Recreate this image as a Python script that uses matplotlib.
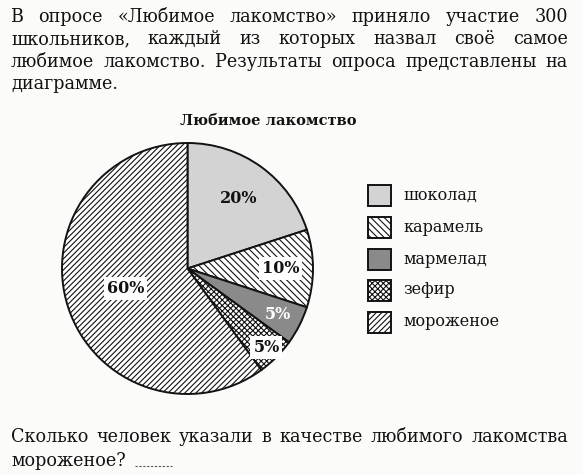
import matplotlib
matplotlib.use("Agg")
import matplotlib.pyplot as plt
from matplotlib.patches import Rectangle
import numpy as np

# ---- data ----
categories = ["шоколад", "карамель", "мармелад", "зефир", "мороженое"]
shares = [20, 10, 5, 5, 60]
chart_title = "Любимое лакомство"
intro_lines = [
    "В опросе «Любимое лакомство» приняло участие 300",
    "школьников, каждый из которых назвал своё самое",
    "любимое лакомство. Результаты опроса представлены на",
    "диаграмме.",
]
question_lines = [
    "Сколько человек указали в качестве любимого лакомства",
    "мороженое?",
]

# ---- styles ----
W, H = 583, 475
INK = "#121212"
PAPER = "#fbfbfa"
SERIF = ["DejaVu Serif"]
fills = ["#d3d3d3", "white", "#8a8a8a", "white", "white"]
hatches = [None, "\\\\\\\\\\", None, "xxxxxx", "//////"]
label_r = [0.69, 0.74, 0.81, 0.89, 0.52]
label_colors = [INK, INK, "white", INK, INK]
label_boxed = [False, True, False, True, True]

plt.rcParams["hatch.linewidth"] = 0.8
plt.rcParams["font.family"] = SERIF

fig = plt.figure(figsize=(W / 100, H / 100), dpi=100)
fig.patch.set_facecolor(PAPER)

# page layer in pixel coordinates (origin top-left)
page = fig.add_axes([0, 0, 1, 1])
page.set_xlim(0, W)
page.set_ylim(H, 0)
page.axis("off")
page.set_zorder(0)

renderer = fig.canvas.get_renderer()


def set_line(text, y, x0, x1=None, **kw):
    """Write one line of body text; stretch word gaps when x1 is given."""
    words = text.split(" ")
    items = [page.text(0, y, w, ha="left", va="baseline", color=INK, **kw) for w in words]
    widths = [t.get_window_extent(renderer).width for t in items]
    if x1 is not None and len(words) > 1:
        gap = (x1 - x0 - sum(widths)) / (len(words) - 1)
    else:
        gap = kw.get("fontsize", 12) * 0.42
    x = x0
    for t, w in zip(items, widths):
        t.set_x(x)
        x += w + gap
    return x - gap


body = dict(fontsize=14, fontstretch="condensed")
for i, line in enumerate(intro_lines):
    last = i == len(intro_lines) - 1
    set_line(line, 22 + i * 22.3, 11, None if last else 568, **body)

set_line(question_lines[0], 442, 11, 568, **body)
end = set_line(question_lines[1], 466, 11, None, **body)
page.plot([end + 9, 172], [466, 466], color="#555555", lw=0.8, dashes=(2, 1.5))

# chart title
page.text(268, 125, chart_title, ha="center", va="baseline", fontsize=10.5,
          fontweight="bold", color=INK)

# ---- pie ----
cx, cy, r = 187.5, 268.5, 125.5
pad = 1.04
pie_ax = fig.add_axes([(cx - r * pad) / W, (H - cy - r * pad) / H,
                       2 * r * pad / W, 2 * r * pad / H])
pie_ax.set_zorder(1)
wedges, _ = pie_ax.pie(shares, startangle=90, counterclock=False, colors=fills,
                       wedgeprops=dict(edgecolor=INK, linewidth=1.4))
for w, h in zip(wedges, hatches):
    if h:
        w.set_hatch(h)
pie_ax.set_xlim(-pad, pad)
pie_ax.set_ylim(-pad, pad)
pie_ax.set_aspect("equal")
pie_ax.axis("off")

for w, v, lr, col, boxed in zip(wedges, shares, label_r, label_colors, label_boxed):
    a = np.deg2rad((w.theta1 + w.theta2) / 2)
    bbox = dict(boxstyle="square,pad=0.18", fc="white", ec="none") if boxed else None
    pie_ax.text(lr * np.cos(a), lr * np.sin(a), f"{v}%", ha="center", va="center",
                fontsize=11.5, fontweight="bold", color=col, bbox=bbox)

# ---- legend ----
box_x, box_w, box_h = 367.5, 23, 21.5
rows_y = [195.5, 227.5, 259.5, 290.5, 322.5]
for y, name, fc, h in zip(rows_y, categories, fills, hatches):
    page.add_patch(Rectangle((box_x, y - box_h / 2), box_w, box_h, facecolor=fc,
                             edgecolor=INK, linewidth=1.4, hatch=h))
    page.text(403, y + 4, name, ha="left", va="baseline", fontsize=11.5, color=INK)

fig.savefig("out.png", dpi=100, facecolor=PAPER)
